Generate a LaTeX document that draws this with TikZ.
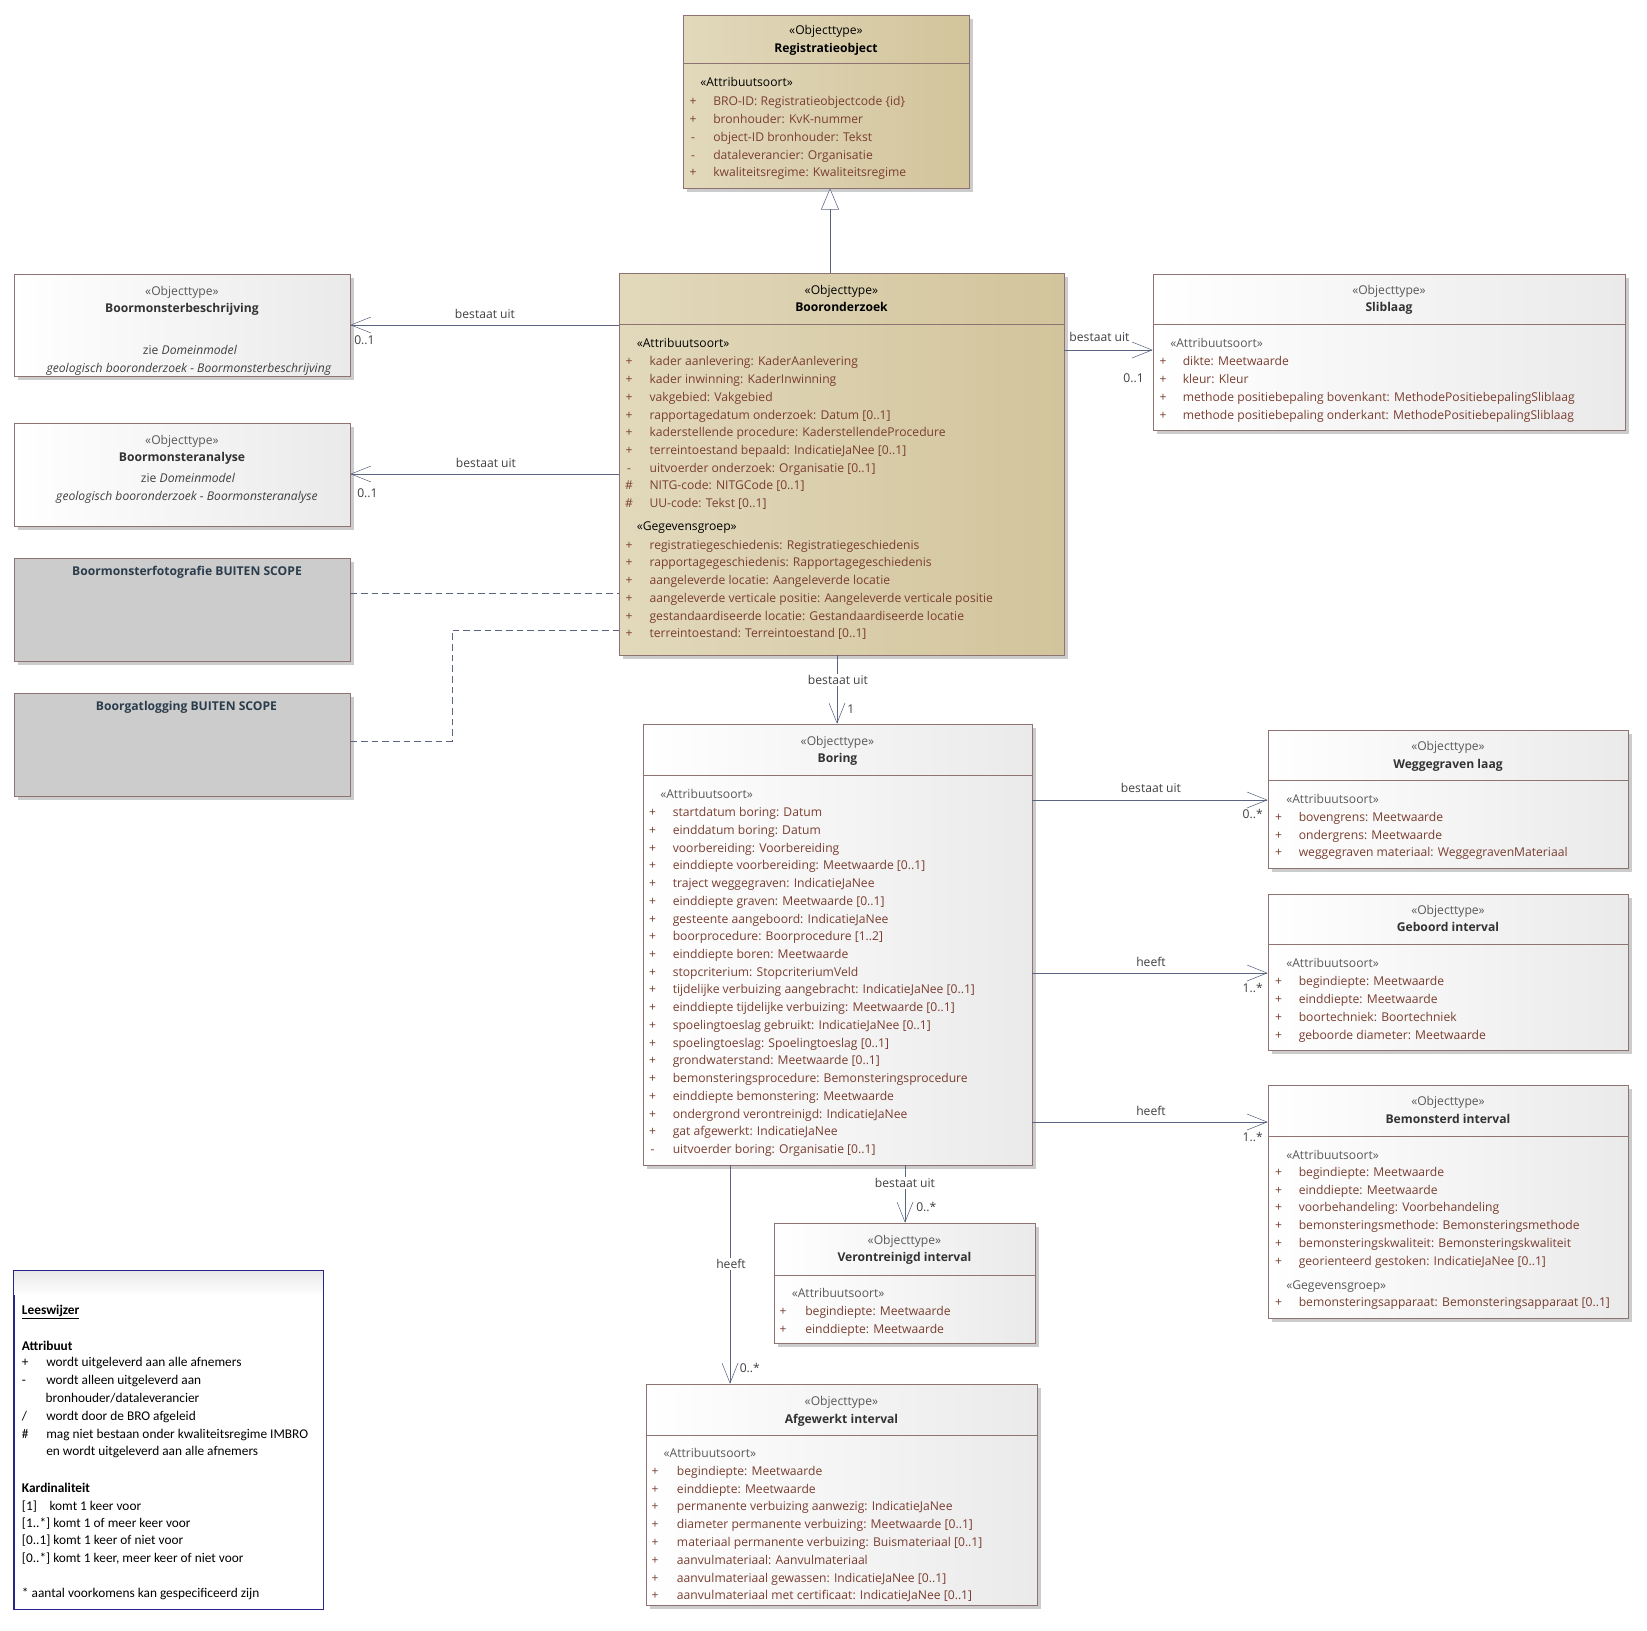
\documentclass[tikz,border=0pt]{standalone}
\usepackage{fontspec}
\setmainfont{Open Sans}
\newfontfamily\lwfont{Carlito}
\usetikzlibrary{arrows.meta,shadows,fit}

\definecolor{tanL}{HTML}{E2D9BC}
\definecolor{tanR}{HTML}{D2C49B}
\definecolor{grijsR}{HTML}{EAEAEA}
\definecolor{rand}{HTML}{8E7373}
\definecolor{attrkl}{HTML}{7A3E30}
\definecolor{lijn}{HTML}{5A6480}
\definecolor{scopekl}{HTML}{2B3D4C}
\definecolor{leesrand}{HTML}{25258C}

\begin{document}
\begin{tikzpicture}[x=0.75pt,y=-0.75pt,
txt/.style={inner sep=0pt,text height=6.4pt,text depth=0pt,font=\fontsize{9.1}{11}\selectfont},
attr/.style={txt,anchor=west,text=attrkl},
sgn/.style={txt,text=attrkl},
ster/.style={txt,text=black!65},
kop/.style={txt,anchor=west,text=black!65},
naam/.style={txt,text=black!80,font=\fontsize{9.1}{11}\selectfont\bfseries},
lbl/.style={txt,text=black!75},
lees/.style={txt,anchor=west,text=black,font=\lwfont\fontsize{10}{12}\selectfont},
leesvet/.style={lees,font=\lwfont\fontsize{10}{12}\selectfont\bfseries},
kader/.style={draw=rand,inner sep=0pt,drop shadow={shadow xshift=3pt,shadow yshift=-3pt,fill=black!20,opacity=1}},
obj/.style={kader,left color=white,right color=grijsR},
hoofd/.style={kader,left color=tanL,right color=tanR},
buiten/.style={kader,fill=black!20},
assoc/.style={draw=lijn,-{Straight Barb[length=15pt,width=12pt]}},
gen/.style={draw=lijn,-{Triangle[length=16pt,width=13.5pt,fill=white]}},
afh/.style={draw=lijn,dash pattern=on 5pt off 3pt}]
\useasboundingbox[fill=white] (0,0) rectangle (1647,1631);

% Registratieobject
\node[hoofd,fit={(683,15) (969,188)}] (reg) {};
\draw[rand] (reg.west |- 0,63) -- (reg.east |- 0,63);
\node[ster,text=black] (reg-st) at (826,30.7) {«Objecttype»};
\node[naam,text=black] (reg-nm) at (826,48.3) {Registratieobject};
\node[kop,text=black] (reg-kp) at (700,82.7) {«Attribuutsoort»};
\foreach \sg/\tx [count=\i from 0] in {+/{BRO-ID: Registratieobjectcode \{id\}},+/{bronhouder: KvK-nummer},-/{object-ID bronhouder: Tekst},-/{dataleverancier: Organisatie},+/{kwaliteitsregime: Kwaliteitsregime}}{
\node[sgn] (reg-s\i) at (693,101.7+17.7*\i) {\sg};
\node[attr] (reg-a\i) at (713,101.7+17.7*\i) {\tx};
}

% Booronderzoek
\node[hoofd,fit={(619,273) (1064,655)}] (bro) {};
\draw[rand] (bro.west |- 0,324) -- (bro.east |- 0,324);
\node[ster,text=black] (bro-st) at (841.5,290.7) {«Objecttype»};
\node[naam,text=black] (bro-nm) at (841.5,307.3) {Booronderzoek};
\node[kop,text=black] (bro-kp) at (636.5,343.3) {«Attribuutsoort»};
\foreach \sg/\tx [count=\i from 0] in {+/{kader aanlevering: KaderAanlevering},+/{kader inwinning: KaderInwinning},+/{vakgebied: Vakgebied},+/{rapportagedatum onderzoek: Datum [0..1]},+/{kaderstellende procedure: KaderstellendeProcedure},+/{terreintoestand bepaald: IndicatieJaNee [0..1]},-/{uitvoerder onderzoek: Organisatie [0..1]},\#/{NITG-code: NITGCode [0..1]},\#/{UU-code: Tekst [0..1]}}{
\node[sgn] (bro-s\i) at (629,361.7+17.7*\i) {\sg};
\node[attr] (bro-a\i) at (649.3,361.7+17.7*\i) {\tx};
}
\node[kop,text=black] (bro-gp) at (636.5,526.7) {«Gegevensgroep»};
\foreach \sg/\tx [count=\i from 0] in {+/{registratiegeschiedenis: Registratiegeschiedenis},+/{rapportagegeschiedenis: Rapportagegeschiedenis},+/{aangeleverde locatie: Aangeleverde locatie},+/{aangeleverde verticale positie: Aangeleverde verticale positie},+/{gestandaardiseerde locatie: Gestandaardiseerde locatie},+/{terreintoestand: Terreintoestand [0..1]}}{
\node[sgn] (bro-t\i) at (629,545+17.7*\i) {\sg};
\node[attr] (bro-g\i) at (649.3,545+17.7*\i) {\tx};
}

% links
\node[obj,fit={(14,274) (350,376)}] (bmb) {};
\node[ster] (bmb-st) at (182,291.7) {«Objecttype»};
\node[naam] (bmb-nm) at (182,308.3) {Boormonsterbeschrijving};
\node[lbl] (bmb-z1) at (190,350) {zie \textit{Domeinmodel}};
\node[lbl] (bmb-z2) at (189,368.3) {\textit{geologisch booronderzoek - Boormonsterbeschrijving}};

\node[obj,fit={(14,423) (350,526)}] (bma) {};
\node[ster] (bma-st) at (182,440.7) {«Objecttype»};
\node[naam] (bma-nm) at (182,457.3) {Boormonsteranalyse};
\node[lbl] (bma-z1) at (188,478.3) {zie \textit{Domeinmodel}};
\node[lbl] (bma-z2) at (187,496) {\textit{geologisch booronderzoek - Boormonsteranalyse}};

\node[buiten,fit={(14,558) (350,661)}] (foto) {};
\node[naam,text=scopekl] (foto-nm) at (187,571.7) {Boormonsterfotografie BUITEN SCOPE};
\node[buiten,fit={(14,693) (350,796)}] (log) {};
\node[naam,text=scopekl] (log-nm) at (186.5,706.7) {Boorgatlogging BUITEN SCOPE};

% Sliblaag
\node[obj,fit={(1153,274) (1625,430)}] (slib) {};
\draw[rand] (slib.west |- 0,324) -- (slib.east |- 0,324);
\node[ster] (slib-st) at (1389,290.7) {«Objecttype»};
\node[naam] (slib-nm) at (1389,307.3) {Sliblaag};
\node[kop] (slib-kp) at (1170,343.3) {«Attribuutsoort»};
\foreach \sg/\tx [count=\i from 0] in {+/{dikte: Meetwaarde},+/{kleur: Kleur},+/{methode positiebepaling bovenkant: MethodePositiebepalingSliblaag},+/{methode positiebepaling onderkant: MethodePositiebepalingSliblaag}}{
\node[sgn] (slib-s\i) at (1163,361.7+17.7*\i) {\sg};
\node[attr] (slib-a\i) at (1182.5,361.7+17.7*\i) {\tx};
}

% Boring
\node[obj,fit={(643,724) (1032,1165)}] (bor) {};
\draw[rand] (bor.west |- 0,775) -- (bor.east |- 0,775);
\node[ster] (bor-st) at (837.5,741.7) {«Objecttype»};
\node[naam] (bor-nm) at (837.5,758.3) {Boring};
\node[kop] (bor-kp) at (660,794) {«Attribuutsoort»};
\foreach \sg/\tx [count=\i from 0] in {+/{startdatum boring: Datum},+/{einddatum boring: Datum},+/{voorbereiding: Voorbereiding},+/{einddiepte voorbereiding: Meetwaarde [0..1]},+/{traject weggegraven: IndicatieJaNee},+/{einddiepte graven: Meetwaarde [0..1]},+/{gesteente aangeboord: IndicatieJaNee},+/{boorprocedure: Boorprocedure [1..2]},+/{einddiepte boren: Meetwaarde},+/{stopcriterium: StopcriteriumVeld},+/{tijdelijke verbuizing aangebracht: IndicatieJaNee [0..1]},+/{einddiepte tijdelijke verbuizing: Meetwaarde [0..1]},+/{spoelingtoeslag gebruikt: IndicatieJaNee [0..1]},+/{spoelingtoeslag: Spoelingtoeslag [0..1]},+/{grondwaterstand: Meetwaarde [0..1]},+/{bemonsteringsprocedure: Bemonsteringsprocedure},+/{einddiepte bemonstering: Meetwaarde},+/{ondergrond verontreinigd: IndicatieJaNee},+/{gat afgewerkt: IndicatieJaNee},-/{uitvoerder boring: Organisatie [0..1]}}{
\node[sgn] (bor-s\i) at (652.5,812.3+17.74*\i) {\sg};
\node[attr] (bor-a\i) at (672.5,812.3+17.74*\i) {\tx};
}

% rechts
\node[obj,fit={(1268,730) (1628,868)}] (wegl) {};
\draw[rand] (wegl.west |- 0,780) -- (wegl.east |- 0,780);
\node[ster] (wegl-st) at (1448,746.7) {«Objecttype»};
\node[naam] (wegl-nm) at (1448,764.3) {Weggegraven laag};
\node[kop] (wegl-kp) at (1286,799) {«Attribuutsoort»};
\foreach \sg/\tx [count=\i from 0] in {+/{bovengrens: Meetwaarde},+/{ondergrens: Meetwaarde},+/{weggegraven materiaal: WeggegravenMateriaal}}{
\node[sgn] (wegl-s\i) at (1278.5,817.3+17.7*\i) {\sg};
\node[attr] (wegl-a\i) at (1298.5,817.3+17.7*\i) {\tx};
}

\node[obj,fit={(1268,894) (1628,1050)}] (gebi) {};
\draw[rand] (gebi.west |- 0,944) -- (gebi.east |- 0,944);
\node[ster] (gebi-st) at (1448,910.3) {«Objecttype»};
\node[naam] (gebi-nm) at (1448,927.7) {Geboord interval};
\node[kop] (gebi-kp) at (1286,963.3) {«Attribuutsoort»};
\foreach \sg/\tx [count=\i from 0] in {+/{begindiepte: Meetwaarde},+/{einddiepte: Meetwaarde},+/{boortechniek: Boortechniek},+/{geboorde diameter: Meetwaarde}}{
\node[sgn] (gebi-s\i) at (1278.5,981.7+17.7*\i) {\sg};
\node[attr] (gebi-a\i) at (1298.5,981.7+17.7*\i) {\tx};
}

\node[obj,fit={(1268,1085) (1628,1318)}] (bemi) {};
\draw[rand] (bemi.west |- 0,1136) -- (bemi.east |- 0,1136);
\node[ster] (bemi-st) at (1448,1101.7) {«Objecttype»};
\node[naam] (bemi-nm) at (1448,1119.3) {Bemonsterd interval};
\node[kop] (bemi-kp) at (1286,1155) {«Attribuutsoort»};
\foreach \sg/\tx [count=\i from 0] in {+/{begindiepte: Meetwaarde},+/{einddiepte: Meetwaarde},+/{voorbehandeling: Voorbehandeling},+/{bemonsteringsmethode: Bemonsteringsmethode},+/{bemonsteringskwaliteit: Bemonsteringskwaliteit},+/{georienteerd gestoken: IndicatieJaNee [0..1]}}{
\node[sgn] (bemi-s\i) at (1278.5,1172.3+17.7*\i) {\sg};
\node[attr] (bemi-a\i) at (1298.5,1172.3+17.7*\i) {\tx};
}
\node[kop] (bemi-gp) at (1286,1285.7) {«Gegevensgroep»};
\node[sgn] (bemi-t0) at (1278.5,1302.3) {+};
\node[attr] (bemi-g0) at (1298.5,1302.3) {bemonsteringsapparaat: Bemonsteringsapparaat [0..1]};

% onder
\node[obj,fit={(774,1223) (1035,1343)}] (veri) {};
\draw[rand] (veri.west |- 0,1275) -- (veri.east |- 0,1275);
\node[ster] (veri-st) at (904.5,1240) {«Objecttype»};
\node[naam] (veri-nm) at (904.5,1257.7) {Verontreinigd interval};
\node[kop] (veri-kp) at (791.5,1293.3) {«Attribuutsoort»};
\foreach \sg/\tx [count=\i from 0] in {+/{begindiepte: Meetwaarde},+/{einddiepte: Meetwaarde}}{
\node[sgn] (veri-s\i) at (783,1311.7+17.5*\i) {\sg};
\node[attr] (veri-a\i) at (805,1311.7+17.5*\i) {\tx};
}

\node[obj,fit={(646,1384) (1037,1605)}] (afgi) {};
\draw[rand] (afgi.west |- 0,1435) -- (afgi.east |- 0,1435);
\node[ster] (afgi-st) at (841.5,1401.7) {«Objecttype»};
\node[naam] (afgi-nm) at (841.5,1419) {Afgewerkt interval};
\node[kop] (afgi-kp) at (663.3,1453.3) {«Attribuutsoort»};
\foreach \sg/\tx [count=\i from 0] in {+/{begindiepte: Meetwaarde},+/{einddiepte: Meetwaarde},+/{permanente verbuizing aanwezig: IndicatieJaNee},+/{diameter permanente verbuizing: Meetwaarde [0..1]},+/{materiaal permanente verbuizing: Buismateriaal [0..1]},+/{aanvulmateriaal: Aanvulmateriaal},+/{aanvulmateriaal gewassen: IndicatieJaNee [0..1]},+/{aanvulmateriaal met certificaat: IndicatieJaNee [0..1]}}{
\node[sgn] (afgi-s\i) at (655,1471+17.8*\i) {\sg};
\node[attr] (afgi-a\i) at (676.7,1471+17.8*\i) {\tx};
}

% Leeswijzer
\node[draw=leesrand,fit={(14,1271) (323,1609)},inner sep=0pt,fill=white] (lw) {};
\shade[top color=black!9,bottom color=white] ([shift={(0.5,0.5)}]lw.north west) rectangle ([shift={(-0.5,24)}]lw.north east);
\draw[leesrand] (lw.north west) rectangle (lw.south east);
\node[leesvet] (lw-0) at (21.7,1310) {\underline{Leeswijzer}};
\node[leesvet] (lw-1) at (21.7,1346) {Attribuut};
\node[lees] (lw-2s) at (21.7,1362.7) {+};
\node[lees] (lw-2) at (46,1362.7) {wordt uitgeleverd aan alle afnemers};
\node[lees] (lw-3s) at (21.7,1380.7) {-};
\node[lees] (lw-3) at (46,1380.7) {wordt alleen uitgeleverd aan};
\node[lees] (lw-4) at (45.3,1398.3) {bronhouder/dataleverancier};
\node[lees] (lw-5s) at (21.7,1416) {/};
\node[lees] (lw-5) at (46,1416) {wordt door de BRO afgeleid};
\node[lees] (lw-6s) at (21.7,1434) {\#};
\node[lees] (lw-6) at (46,1434) {mag niet bestaan onder kwaliteitsregime IMBRO};
\node[lees] (lw-7) at (46,1451.7) {en wordt uitgeleverd aan alle afnemers};
\node[leesvet] (lw-8) at (21.7,1488.3) {Kardinaliteit};
\node[lees] (lw-9s) at (21.7,1506) {[1]};
\node[lees] (lw-9) at (49.3,1506) {komt 1 keer voor};
\node[lees] (lw-10) at (21.7,1523.3) {[1..*] komt 1 of meer keer voor};
\node[lees] (lw-11) at (21.7,1540.7) {[0..1] komt 1 keer of niet voor};
\node[lees] (lw-12) at (21.7,1558.3) {[0..*] komt 1 keer, meer keer of niet voor};
\node[lees] (lw-13) at (21.7,1593.3) {* aantal voorkomens kan gespecificeerd zijn};

% verbindingen
\draw[gen] (bro.north -| 830,0) -- (reg.south -| 830,0);
\draw[assoc] (bro.west |- 0,325) -- (bmb.east |- 0,325);
\node[lbl] (l1) at (485,314) {bestaat uit};
\node[lbl,anchor=west] (m1) at (354,340) {0..1};
\draw[assoc] (bro.west |- 0,474) -- (bma.east |- 0,474);
\node[lbl] (l2) at (486,463) {bestaat uit};
\node[lbl,anchor=west] (m2) at (357,493) {0..1};
\draw[assoc] (bro.east |- 0,350) -- (slib.west |- 0,350);
\node[lbl] (l3) at (1099.5,337) {bestaat uit};
\node[lbl,anchor=east] (m3) at (1144,378) {0..1};
\draw[afh] (foto.east |- 0,593) -- (bro.west |- 0,593);
\coordinate (knik) at (452,630);
\draw[afh] (log.east |- 0,741) -| (knik) -- (bro.west |- knik);

\draw[assoc] (bro.south -| 837,0) -- (bor.north -| 837,0);
\node[lbl,fill=white,inner sep=1pt] (l4) at (838,680) {bestaat uit};
\node[lbl,anchor=west] (m4) at (847,709) {1};
\draw[assoc] (bor.east |- 0,800) -- (wegl.west |- 0,800);
\node[lbl] (l5) at (1151,788) {bestaat uit};
\node[lbl,anchor=east] (m5) at (1263,814) {0..*};
\draw[assoc] (bor.east |- 0,973) -- (gebi.west |- 0,973);
\node[lbl] (l6) at (1151,962) {heeft};
\node[lbl,anchor=east] (m6) at (1263,988) {1..*};
\draw[assoc] (bor.east |- 0,1122) -- (bemi.west |- 0,1122);
\node[lbl] (l7) at (1151,1111) {heeft};
\node[lbl,anchor=east] (m7) at (1263,1137) {1..*};
\draw[assoc] (bor.south -| 905,0) -- (veri.north -| 905,0);
\node[lbl,fill=white,inner sep=1pt] (l8) at (905,1183) {bestaat uit};
\node[lbl,anchor=west] (m8) at (916,1207) {0..*};
\draw[assoc] (bor.south -| 730,0) -- (afgi.north -| 730,0);
\node[lbl,fill=white,inner sep=1pt] (l9) at (731,1264) {heeft};
\node[lbl,anchor=west] (m9) at (739.5,1368) {0..*};
\end{tikzpicture}
\end{document}
